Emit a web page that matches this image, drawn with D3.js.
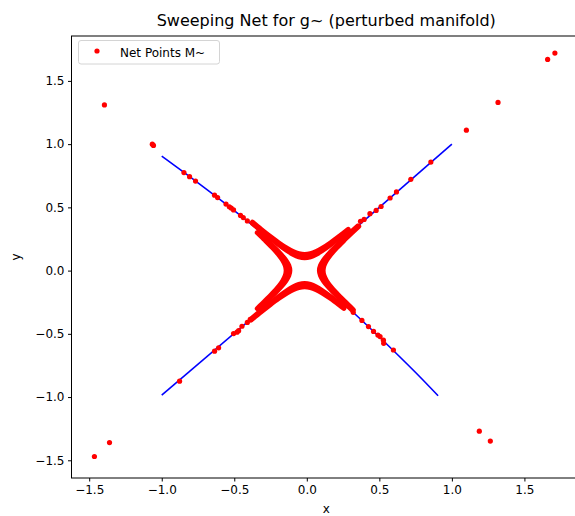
<!DOCTYPE html>
<html>
<head>
<meta charset="utf-8">
<script src="https://cdn.jsdelivr.net/npm/d3@7/dist/d3.min.js"></script>
<style>
  html, body { margin: 0; padding: 0; background: #ffffff; }
  svg { display: block; }
  text { font-family: "DejaVu Sans", sans-serif; fill: #000; }
</style>
</head>
<body>
<svg id="chart" width="575" height="516"></svg>
<script>
// Reference manifold M: the four visible arms of the two blue branches
const armLowerLeftX = [-1.0, -0.30];
const armLowerLeftY = [-0.985, -0.30];
const armUpperRightX = [0.30, 1.0];
const armUpperRightY = [0.30, 1.0];
const armUpperLeftX = [-1.0, -0.75, -0.5, -0.30];
const armUpperLeftY = [0.905, 0.694, 0.475, 0.291];
const armLowerRightX = [0.28, 0.5, 0.75, 0.905];
const armLowerRightY = [-0.288, -0.525, -0.806, -0.99];

// Dense net points around the crossing: each arc is a band between an inner and an outer edge
const arcTopX      = [-0.375, -0.315, -0.255, -0.195, -0.135, -0.095, -0.055, -0.015, 0.025, 0.065, 0.105, 0.165, 0.225, 0.285];
const arcTopInY    = [0.3743, 0.3170, 0.2610, 0.2071, 0.1578, 0.1300, 0.1100, 0.1025, 0.1100, 0.1300, 0.1578, 0.2071, 0.2610, 0.3170];
const arcTopOutY   = [0.3816, 0.3256, 0.2713, 0.2200, 0.1744, 0.1497, 0.1327, 0.1265, 0.1327, 0.1497, 0.1744, 0.2200, 0.2713, 0.3256];

const arcBottomX    = [-0.385, -0.315, -0.255, -0.195, -0.135, -0.095, -0.055, -0.015, 0.025, 0.065, 0.105, 0.165, 0.225, 0.255];
const arcBottomInY  = [-0.3839, -0.3170, -0.2610, -0.2071, -0.1578, -0.1300, -0.1100, -0.1025, -0.1100, -0.1300, -0.1578, -0.2071, -0.2610, -0.2888];
const arcBottomOutY = [-0.3910, -0.3256, -0.2713, -0.2200, -0.1744, -0.1497, -0.1327, -0.1265, -0.1327, -0.1497, -0.1744, -0.2200, -0.2713, -0.2982];

const arcLeftY    = [-0.30, -0.24, -0.18, -0.12, -0.08, -0.04, 0.0, 0.04, 0.08, 0.12, 0.18, 0.24, 0.30];
const arcLeftInX  = [-0.3320, -0.2760, -0.2221, -0.1728, -0.1450, -0.1250, -0.1175, -0.1250, -0.1450, -0.1728, -0.2221, -0.2760, -0.3320];
const arcLeftOutX = [-0.3406, -0.2863, -0.2350, -0.1894, -0.1647, -0.1477, -0.1415, -0.1477, -0.1647, -0.1894, -0.2350, -0.2863, -0.3406];

const arcRightY    = [-0.31, -0.24, -0.18, -0.12, -0.08, -0.04, 0.0, 0.04, 0.08, 0.12, 0.18, 0.24, 0.30, 0.35];
const arcRightInX  = [0.3115, 0.2460, 0.1921, 0.1428, 0.1150, 0.0950, 0.0875, 0.0950, 0.1150, 0.1428, 0.1921, 0.2460, 0.3020, 0.3497];
const arcRightOutX = [0.3198, 0.2563, 0.2050, 0.1594, 0.1347, 0.1177, 0.1115, 0.1177, 0.1347, 0.1594, 0.2050, 0.2563, 0.3106, 0.3572];

// Sparse net points along the arms and far outliers
const netX = [
  0.37, 0.395, 0.435, 0.478, 0.512, 0.574, 0.618, 0.717, 0.855, 1.10, 1.318, 1.66, 1.71,
  -0.41, -0.438, -0.457, -0.505, -0.521, -0.534, -0.557, -0.615, -0.636, -0.767, -0.808, -0.847, -1.057, -1.065, -1.395,
  -0.39, -0.41, -0.447, -0.47, -0.481, -0.505, -0.608, -0.636, -0.877, -1.36, -1.464,
  0.32, 0.38, 0.425, 0.46, 0.49, 0.505, 0.528, 0.53, 0.597, 1.189, 1.265
];
const netY = [
  0.39, 0.405, 0.45, 0.476, 0.507, 0.574, 0.622, 0.722, 0.858, 1.11, 1.33, 1.67, 1.72,
  0.393, 0.419, 0.436, 0.48, 0.494, 0.505, 0.526, 0.577, 0.596, 0.708, 0.743, 0.775, 0.99, 1.0, 1.31,
  -0.385, -0.41, -0.44, -0.475, -0.487, -0.498, -0.611, -0.637, -0.874, -1.36, -1.47,
  -0.33, -0.394, -0.443, -0.481, -0.51, -0.522, -0.55, -0.575, -0.628, -1.27, -1.348
];

const xTicks = [-1.5, -1.0, -0.5, 0.0, 0.5, 1.0, 1.5];
const yTicks = [-1.5, -1.0, -0.5, 0.0, 0.5, 1.0, 1.5];

const titleText = "Sweeping Net for g~ (perturbed manifold)";
const legendText = "Net Points M~";

const svg = d3.select("#chart");
const plot = { left: 71.5, right: 581, top: 36, bottom: 478 };

const x = d3.scaleLinear().domain([-1.622, 1.89]).range([plot.left, plot.right]);
const y = d3.scaleLinear().domain([-1.64, 1.855]).range([plot.bottom, plot.top]);

const fmt = v => d3.format(".1f")(v).replace("-", "\u2212");
const zip = (xs, ys) => xs.map((v, i) => [v, ys[i]]);

svg.append("clipPath").attr("id", "plotClip")
  .append("rect")
  .attr("x", plot.left).attr("y", plot.top)
  .attr("width", plot.right - plot.left).attr("height", plot.bottom - plot.top);

const g = svg.append("g").attr("clip-path", "url(#plotClip)");

const smooth = d3.line().x(d => x(d[0])).y(d => y(d[1])).curve(d3.curveCatmullRom);

// Blue manifold arms
[
  zip(armLowerLeftX, armLowerLeftY),
  zip(armUpperRightX, armUpperRightY),
  zip(armUpperLeftX, armUpperLeftY),
  zip(armLowerRightX, armLowerRightY)
].forEach(pts => {
  g.append("path")
    .attr("d", smooth(pts))
    .attr("fill", "none")
    .attr("stroke", "#0000ff")
    .attr("stroke-width", 1.6);
});

// Dense arcs of net points
[
  zip(arcTopX, arcTopInY), zip(arcTopX, arcTopOutY),
  zip(arcBottomX, arcBottomInY), zip(arcBottomX, arcBottomOutY),
  zip(arcLeftInX, arcLeftY), zip(arcLeftOutX, arcLeftY),
  zip(arcRightInX, arcRightY), zip(arcRightOutX, arcRightY)
].forEach(pts => {
  g.append("path")
    .attr("d", smooth(pts))
    .attr("fill", "none")
    .attr("stroke", "#ff0000")
    .attr("stroke-width", 5.2)
    .attr("stroke-linecap", "round")
    .attr("stroke-linejoin", "round");
});

// Sparse net points
g.selectAll("circle.net")
  .data(zip(netX, netY))
  .join("circle")
  .attr("class", "net")
  .attr("cx", d => x(d[0]))
  .attr("cy", d => y(d[1]))
  .attr("r", 2.6)
  .attr("fill", "#ff0000");

// Frame
svg.append("rect")
  .attr("x", plot.left).attr("y", plot.top)
  .attr("width", plot.right - plot.left).attr("height", plot.bottom - plot.top)
  .attr("fill", "none").attr("stroke", "#000").attr("stroke-width", 1);

// Axes
const xAxis = d3.axisBottom(x).tickValues(xTicks).tickFormat(fmt).tickSize(3.5).tickPadding(3.5);
const yAxis = d3.axisLeft(y).tickValues(yTicks).tickFormat(fmt).tickSize(3.5).tickPadding(3.5);

const gx = svg.append("g").attr("transform", `translate(0,${plot.bottom})`).call(xAxis);
const gy = svg.append("g").attr("transform", `translate(${plot.left},0)`).call(yAxis);
[gx, gy].forEach(a => {
  a.select(".domain").remove();
  a.selectAll("line").attr("stroke", "#000").attr("stroke-width", 1);
  a.selectAll("text").attr("font-size", 12).attr("font-family", "DejaVu Sans").attr("fill", "#000");
});

// Title and axis labels
const cx = (plot.left + plot.right) / 2;
svg.append("text").attr("x", cx).attr("y", 26)
  .attr("text-anchor", "middle").attr("font-size", 16).text(titleText);
svg.append("text").attr("x", cx).attr("y", 513)
  .attr("text-anchor", "middle").attr("font-size", 12).text("x");
svg.append("text")
  .attr("transform", `translate(20,${(plot.top + plot.bottom) / 2}) rotate(-90)`)
  .attr("text-anchor", "middle").attr("font-size", 12).text("y");

// Legend
const lg = svg.append("g");
lg.append("rect")
  .attr("x", 78.5).attr("y", 40.5).attr("width", 141).attr("height", 23.5)
  .attr("rx", 2.5).attr("fill", "#fff").attr("fill-opacity", 0.8)
  .attr("stroke", "#d4d4d4").attr("stroke-width", 1);
lg.append("circle").attr("cx", 97).attr("cy", 51).attr("r", 2.6).attr("fill", "#ff0000");
lg.append("text").attr("x", 120).attr("y", 56.5).attr("font-size", 12).text(legendText);
</script>
</body>
</html>
